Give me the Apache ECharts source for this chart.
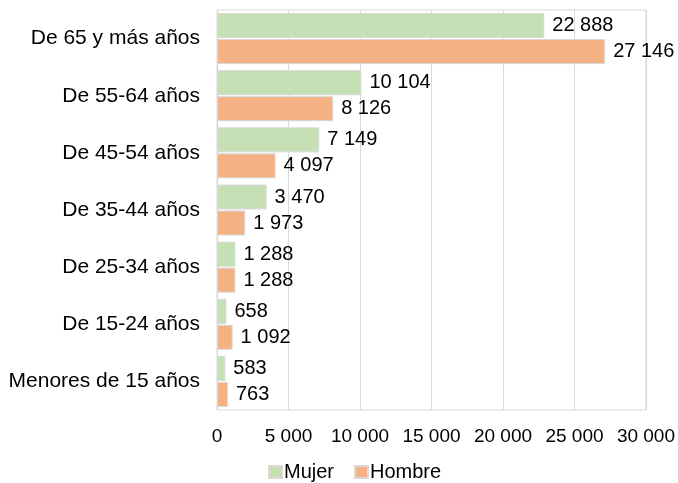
<!DOCTYPE html>
<html>
<head>
<meta charset="utf-8">
<script src="https://cdn.jsdelivr.net/npm/echarts@6/dist/echarts.min.js"></script>
<style>
  html, body { margin: 0; padding: 0; background: #fff; }
  #chart { width: 678px; height: 483px; }
</style>
</head>
<body>
<div id="chart"></div>
<script>
// datos por grupo de edad
const categories = ['De 65 y más años', 'De 55-64 años', 'De 45-54 años', 'De 35-44 años', 'De 25-34 años', 'De 15-24 años', 'Menores de 15 años']
const mujer = [22888, 10104, 7149, 3470, 1288, 658, 583]
const hombre = [27146, 8126, 4097, 1973, 1288, 1092, 763]
const xTicks = [0, 5000, 10000, 15000, 20000, 25000, 30000]

const fmt = v => String(v).replace(/\B(?=(\d{3})+(?!\d))/g, ' ')
const font = 'Liberation Sans, Arial, sans-serif'

const chart = echarts.init(document.getElementById('chart'))
chart.setOption({
  animation: false,
  textStyle: { fontFamily: font },
  color: ['#c5e0b4', '#f4b183'],
  grid: {
    left: 217, right: 32, top: 10, bottom: 73,
    show: true, borderColor: '#d9d9d9', borderWidth: 1
  },
  legend: {
    bottom: -4,
    left: 263,
    itemWidth: 13,
    itemHeight: 12,
    itemGap: 20,
    icon: 'rect',
    textStyle: { fontSize: 20, color: '#000', fontFamily: font, padding: [0, 0, 0, -3] },
    data: ['Mujer', 'Hombre']
  },
  xAxis: {
    type: 'value',
    min: xTicks[0],
    max: xTicks[xTicks.length - 1],
    interval: 5000,
    axisLine: { show: false },
    axisTick: { show: false },
    splitLine: { lineStyle: { color: '#d9d9d9' } },
    axisLabel: { color: '#000', fontSize: 19, margin: 17, formatter: fmt }
  },
  yAxis: {
    type: 'category',
    inverse: true,
    data: categories,
    axisLine: { lineStyle: { color: '#d9d9d9' } },
    axisTick: { show: false },
    axisLabel: { color: '#000', fontSize: 21, margin: 17 }
  },
  series: [
    {
      name: 'Mujer', type: 'bar', data: mujer,
      barWidth: 25, barGap: '4%',
      itemStyle: { borderColor: '#d9d9d9', borderWidth: 1 },
      label: { show: true, position: 'right', color: '#000', fontSize: 20, distance: 8, formatter: p => fmt(p.value) }
    },
    {
      name: 'Hombre', type: 'bar', data: hombre,
      barWidth: 25,
      itemStyle: { borderColor: '#d9d9d9', borderWidth: 1 },
      label: { show: true, position: 'right', color: '#000', fontSize: 20, distance: 8, formatter: p => fmt(p.value) }
    }
  ]
})
</script>
</body>
</html>
